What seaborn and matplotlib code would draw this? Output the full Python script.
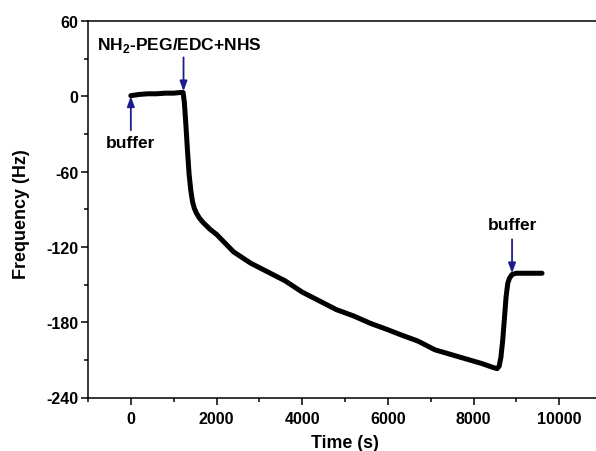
import matplotlib
matplotlib.use("Agg")
import matplotlib.pyplot as plt
from matplotlib.ticker import MultipleLocator
import seaborn as sns
import pandas as pd

time_s = [0, 200, 400, 600, 800, 1000, 1150, 1220, 1250, 1280, 1320, 1360, 1400, 1440, 1480,
          1530, 1600, 1700, 1850, 2000, 2200, 2400, 2800, 3200, 3600, 4000, 4400, 4800, 5200,
          5600, 6000, 6300, 6700, 7100, 7500, 7900, 8200, 8450, 8550, 8600, 8640, 8680, 8720,
          8760, 8800, 8840, 8900, 9000, 9200, 9400, 9600]
freq_hz = [0.5, 1.5, 2, 2, 2.5, 2.5, 3, 3, -5, -20, -42, -62, -75, -84, -89,
           -93, -97, -101, -106, -110, -117, -124, -133, -140, -147, -156, -163, -170, -175,
           -181, -186, -190, -195, -202, -206, -210, -213, -216, -217, -215, -208, -195, -178,
           -160, -149, -145, -142, -141, -141, -141, -141]

yticks = [-240, -180, -120, -60, 0, 60]
xticks = [0, 2000, 4000, 6000, 8000, 10000]

df = pd.DataFrame({"Time (s)": time_s, "Frequency (Hz)": freq_hz})

sns.set_style("ticks", {"axes.edgecolor": "black", "text.color": "black",
                        "xtick.color": "black", "ytick.color": "black",
                        "axes.labelcolor": "black"})
plt.rcParams["font.family"] = ["Liberation Sans", "DejaVu Sans"]
plt.rcParams["font.weight"] = "bold"
plt.rcParams["axes.unicode_minus"] = False
plt.rcParams["mathtext.fontset"] = "custom"
plt.rcParams["mathtext.bf"] = "Liberation Sans:bold"
plt.rcParams["mathtext.rm"] = "Liberation Sans:bold"

fig = plt.figure(figsize=(5.96, 4.52), dpi=100)
W, H = 596, 452
left, right, top, bottom = 88, 602, 22, 398.5
ax = fig.add_axes([left / W, (H - bottom) / H, (right - left) / W, (bottom - top) / H])

sns.lineplot(data=df, x="Time (s)", y="Frequency (Hz)", ax=ax, color="black",
             linewidth=3.6, solid_capstyle="round", solid_joinstyle="round")

ax.set_xlim(-1000, 11000)
ax.set_ylim(-240, 60)
ax.set_xticks(xticks)
ax.set_yticks(yticks)
ax.xaxis.set_minor_locator(MultipleLocator(1000))
ax.yaxis.set_minor_locator(MultipleLocator(30))
ax.tick_params(axis="both", which="major", direction="out", length=5, width=1.1,
               labelsize=11.5, colors="black")
ax.tick_params(axis="x", which="major", pad=5)
ax.tick_params(axis="y", which="major", pad=2)
ax.tick_params(axis="both", which="minor", direction="out", length=3, width=1.1, colors="black")
for lab in ax.get_xticklabels() + ax.get_yticklabels():
    lab.set_fontweight("bold")
for s in ax.spines.values():
    s.set_linewidth(1.1)
    s.set_color("black")
    s.set_visible(True)

ax.set_xlabel("Time (s)", fontsize=12.8, fontweight="bold", color="black")
ax.set_ylabel("Frequency (Hz)", fontsize=13, fontweight="bold", color="black")
ax.xaxis.set_label_coords(0.5, (bottom - 435) / (bottom - top))
ax.yaxis.set_label_coords((30 - left) / (right - left), (bottom - 214) / (bottom - top))

navy = "#1c1c8c"
arrow = dict(arrowstyle="-|>,head_length=0.6,head_width=0.22", color=navy, lw=1.3,
             shrinkA=0, shrinkB=0)
ax.annotate("", xy=(0, 0), xytext=(0, -27), arrowprops=arrow)
ax.text(0, -37, "buffer", ha="center", va="center", fontsize=12.5, fontweight="bold",
        color="black")
ax.annotate("", xy=(1230, 4), xytext=(1230, 31), arrowprops=arrow)
ax.text(-790, 41, r"NH$_\mathrm{2}$-PEG/EDC+NHS", ha="left", va="center", fontsize=12.5,
        fontweight="bold", color="black")
ax.annotate("", xy=(8900, -141), xytext=(8900, -114), arrowprops=arrow)
ax.text(8900, -102, "buffer", ha="center", va="center", fontsize=12.5, fontweight="bold",
        color="black")

fig.savefig("out.png", dpi=100)
